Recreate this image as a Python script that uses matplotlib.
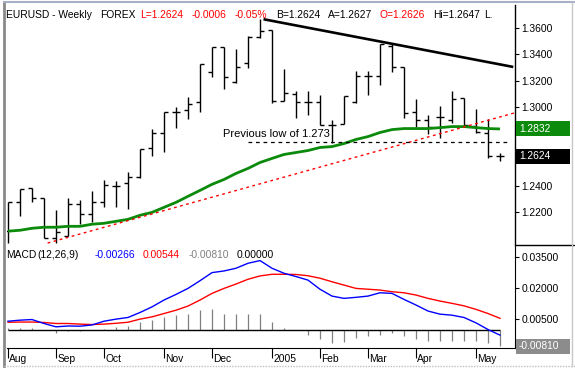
import matplotlib
matplotlib.use("Agg")
import numpy as np
import matplotlib.pyplot as plt
import matplotlib.transforms as mtransforms
from matplotlib.patches import Rectangle
from matplotlib.lines import Line2D

plt.rcParams["font.family"] = ["Liberation Sans", "DejaVu Sans"]
FS = 7.4

# weekly EURUSD bars, Aug 2004 .. May 2005
opens = [1.2055, 1.2274, 1.2380, 1.2305, 1.2002, 1.2017, 1.2259, 1.2183, 1.2274, 1.2395,
         1.2418, 1.2464, 1.2691, 1.2805, 1.2964, 1.2979, 1.3039, 1.3267, 1.3456, 1.3191,
         1.3335, 1.3532, 1.3585, 1.3047, 1.3100, 1.3039, 1.3039, 1.2865, 1.2873, 1.3039,
         1.3236, 1.3236, 1.3464, 1.3305, 1.2964, 1.2903, 1.2926, 1.2903, 1.3070, 1.2858,
         1.2805, 1.2626]
highs = [1.2274, 1.2373, 1.2380, 1.2305, 1.2214, 1.2305, 1.2289, 1.2358, 1.2441, 1.2433,
         1.2502, 1.2676, 1.2835, 1.2964, 1.3002, 1.3077, 1.3327, 1.3456, 1.3456, 1.3441,
         1.3539, 1.3668, 1.3585, 1.3289, 1.3123, 1.3123, 1.3092, 1.2903, 1.3085, 1.3274,
         1.3274, 1.3479, 1.3479, 1.3305, 1.3062, 1.2941, 1.3009, 1.3123, 1.3070, 1.2986,
         1.2911, 1.2647]
lows = [1.1964, 1.2168, 1.2274, 1.2002, 1.1964, 1.2017, 1.2108, 1.2123, 1.2236, 1.2236,
        1.2221, 1.2456, 1.2630, 1.2653, 1.2842, 1.2911, 1.2964, 1.3229, 1.3138, 1.3183,
        1.3297, 1.3524, 1.3032, 1.3047, 1.2918, 1.2941, 1.2865, 1.2729, 1.2873, 1.3032,
        1.3092, 1.3168, 1.3267, 1.2918, 1.2850, 1.2797, 1.2767, 1.2880, 1.2850, 1.2805,
        1.2608, 1.2590]
closes = [1.2274, 1.2373, 1.2305, 1.2002, 1.2047, 1.2259, 1.2183, 1.2274, 1.2403, 1.2395,
          1.2464, 1.2676, 1.2805, 1.2964, 1.2964, 1.3024, 1.3327, 1.3456, 1.3229, 1.3305,
          1.3532, 1.3577, 1.3047, 1.3108, 1.3039, 1.3039, 1.2865, 1.2865, 1.3085, 1.3236,
          1.3236, 1.3479, 1.3305, 1.2956, 1.2903, 1.2850, 1.2926, 1.3062, 1.2865, 1.2812,
          1.2623, 1.2624]
moving_avg = [1.2055, 1.2062, 1.2077, 1.2085, 1.2085, 1.2092, 1.2092, 1.2108, 1.2115, 1.2130,
              1.2145, 1.2176, 1.2198, 1.2236, 1.2274, 1.2320, 1.2365, 1.2411, 1.2448, 1.2494,
              1.2532, 1.2577, 1.2608, 1.2638, 1.2653, 1.2668, 1.2691, 1.2698, 1.2721, 1.2752,
              1.2774, 1.2805, 1.2827, 1.2835, 1.2835, 1.2835, 1.2842, 1.2850, 1.2850, 1.2842,
              1.2835, 1.2832]

macd_line = [0.0040, 0.0045, 0.0048, 0.0029, 0.0013, 0.0017, 0.0016, 0.0022, 0.0040, 0.0050,
             0.0058, 0.0082, 0.0109, 0.0142, 0.0169, 0.0198, 0.0235, 0.0274, 0.0282, 0.0295,
             0.0319, 0.0332, 0.0295, 0.0271, 0.0255, 0.0238, 0.0194, 0.0161, 0.0150, 0.0155,
             0.0161, 0.0177, 0.0174, 0.0145, 0.0118, 0.0089, 0.0074, 0.0069, 0.0058, 0.0032,
             0.0000, -0.0027]
signal_line = [0.0035, 0.0036, 0.0036, 0.0034, 0.0029, 0.0029, 0.0026, 0.0024, 0.0026, 0.0030,
               0.0035, 0.0050, 0.0061, 0.0077, 0.0093, 0.0113, 0.0142, 0.0174, 0.0198, 0.0219,
               0.0242, 0.0258, 0.0266, 0.0266, 0.0265, 0.0259, 0.0247, 0.0230, 0.0214, 0.0198,
               0.0194, 0.0190, 0.0182, 0.0177, 0.0166, 0.0150, 0.0137, 0.0126, 0.0114, 0.0097,
               0.0077, 0.0054]
macd_hist = [0.0005, 0.0005, 0.0005, 0.0000, -0.0016, -0.0005, -0.0005, -0.0003, 0.0003, 0.0010,
             0.0019, 0.0035, 0.0048, 0.0061, 0.0072, 0.0077, 0.0093, 0.0101, 0.0077, 0.0077,
             0.0077, 0.0077, 0.0035, 0.0008, 0.0000, -0.0024, -0.0048, -0.0064, -0.0061, -0.0043,
             -0.0032, -0.0024, -0.0016, -0.0032, -0.0045, -0.0056, -0.0056, -0.0056, -0.0056, -0.0056,
             -0.0067, -0.0081]

month_labels = ["Aug", "Sep", "Oct", "Nov", "Dec", "2005", "Feb", "Mar", "Apr", "May"]
month_pos = [0, 4, 8, 13, 17, 22, 26, 30, 34, 39]

price_ticks = [1.22, 1.24, 1.30, 1.32, 1.34, 1.36]
macd_ticks = [0.035, 0.020, 0.005]

# hand-drawn annotations: (bar index, price) end points
up_trend = ([3.3, 42.25], [1.1965, 1.2955])
down_trend = ([21.4, 42.0], [1.3664, 1.3305])
prev_low = 1.273
prev_low_span = (20.0, 41.8)

W, H = 575, 368
fig = plt.figure(figsize=(W / 100, H / 100), dpi=100)


def fx(px):
    return px / W


def fy(py):
    return 1 - py / H


ax = fig.add_axes([fx(7), fy(245), fx(515) - fx(7), fy(5) - fy(245)])
ax2 = fig.add_axes([fx(7), fy(348), fx(515) - fx(7), fy(245) - fy(348)], sharex=ax)

idx = np.arange(len(closes))

# --- price panel ---
ax.vlines(idx, lows, highs, color="black", lw=1.0)
ax.hlines(opens, idx - 0.33, idx, color="black", lw=1.0)
ax.hlines(closes, idx, idx + 0.33, color="black", lw=1.0)
ax.plot(idx, moving_avg, color="#0b8a0b", lw=2.0, solid_capstyle="butt")
ax.plot(*up_trend, color="red", lw=1.0, linestyle=(0, (2, 2.5)))
ax.plot(*down_trend, color="black", lw=1.9)
ax.hlines(prev_low, *prev_low_span, color="black", lw=0.9, linestyles=(0, (3, 3)))
ax.text(17.9, 1.2797, "Previous low of 1.273", fontsize=8, va="center", ha="left")

ax.set_xlim(-0.083, 42.25)
ax.set_ylim(1.1950, 1.3774)
ax.yaxis.tick_right()
ax.set_yticks(price_ticks)
ax.yaxis.set_major_formatter(plt.FormatStrFormatter("%.4f"))
ax.tick_params(axis="y", length=3, width=0.8, pad=1.5, labelsize=FS)
ax.tick_params(axis="x", bottom=False, labelbottom=False)
for s in ("top", "left", "bottom"):
    ax.spines[s].set_visible(False)
ax.spines["right"].set_linewidth(1.0)

# --- MACD panel ---
ax2.vlines(idx, 0, macd_hist, color="#808080", lw=0.9)
ax2.hlines(0, idx[0], idx[-1], color="black", lw=1.0)
ax2.plot(idx, signal_line, color="red", lw=1.0)
ax2.plot(idx, macd_line, color="blue", lw=1.0)
ax2.set_ylim(-0.0089, 0.0407)
ax2.yaxis.tick_right()
ax2.set_yticks(macd_ticks)
ax2.yaxis.set_major_formatter(plt.FormatStrFormatter("%.5f"))
ax2.tick_params(axis="y", length=3, width=0.8, pad=1.5, labelsize=FS)
ax2.set_xticks(month_pos)
ax2.set_xticklabels([])
ax2.tick_params(axis="x", direction="out", length=7, width=0.8)
for s in ("top", "left"):
    ax2.spines[s].set_visible(False)

btrans = mtransforms.blended_transform_factory(ax2.transData, fig.transFigure)
for pos, lab in zip(month_pos, month_labels):
    ax2.text(pos + 0.1, fy(362.5), lab, transform=btrans, fontsize=FS, ha="left", va="baseline")


# value boxes on the right scale
def value_box(axis, value, label, face, h=15):
    ypx = axis.transData.transform((0, value))[1]
    y0 = (ypx - h / 2) / H
    fig.patches.append(Rectangle((fx(516), y0), fx(570) - fx(516), h / H,
                                 transform=fig.transFigure, facecolor=face, edgecolor="none"))
    fig.text(fx(519), ypx / H, label, color="white", fontsize=FS, ha="left", va="center")


value_box(ax, moving_avg[-1], "1.2832", "#0b8a0b")
value_box(ax, closes[-1], "1.2624", "black")
value_box(ax2, -0.0081, "-0.00810", "#8c8c8c")

# separator on the scale area and the window frame
fig.add_artist(Line2D([fx(515), fx(575)], [fy(245), fy(245)], color="black", lw=1.0))
fig.add_artist(Line2D([fx(4), fx(4)], [fy(2), fy(366)], color="#8a8a8a", lw=2.0))
fig.add_artist(Line2D([fx(4), fx(575)], [fy(1.5), fy(1.5)], color="#a8b0c8", lw=1.5))
fig.add_artist(Line2D([fx(572), fx(572)], [fy(2), fy(366)], color="#c8c8c8", lw=1.0))
fig.add_artist(Line2D([fx(4), fx(575)], [fy(366), fy(366)], color="#c0c0c0", lw=1.0,
                      linestyle=(0, (1, 1))))

# header lines
header = [(6, "EURUSD - Weekly", "black"), (100, "FOREX", "black"), (140, "L=1.2624", "red"),
          (192, "-0.0006", "red"), (235, "-0.05%", "red"), (276, "B=1.2624", "black"),
          (328, "A=1.2627", "black"), (380, "O=1.2626", "red"), (433, "Hi=1.2647", "black"),
          (484, "L.", "black")]
for x, t, c in header:
    fig.text(fx(x), fy(18.5), t, color=c, fontsize=FS, ha="left", va="baseline")

macd_header = [(6, "MACD", "black"), (37, "(12,26,9)", "black"), (95, "-0.00266", "blue"),
               (143, "0.00544", "red"), (189, "-0.00810", "#808080"), (237, "0.00000", "black")]
for x, t, c in macd_header:
    fig.text(fx(x), fy(258.5), t, color=c, fontsize=FS, ha="left", va="baseline")

fig.savefig("out.png", dpi=100)
